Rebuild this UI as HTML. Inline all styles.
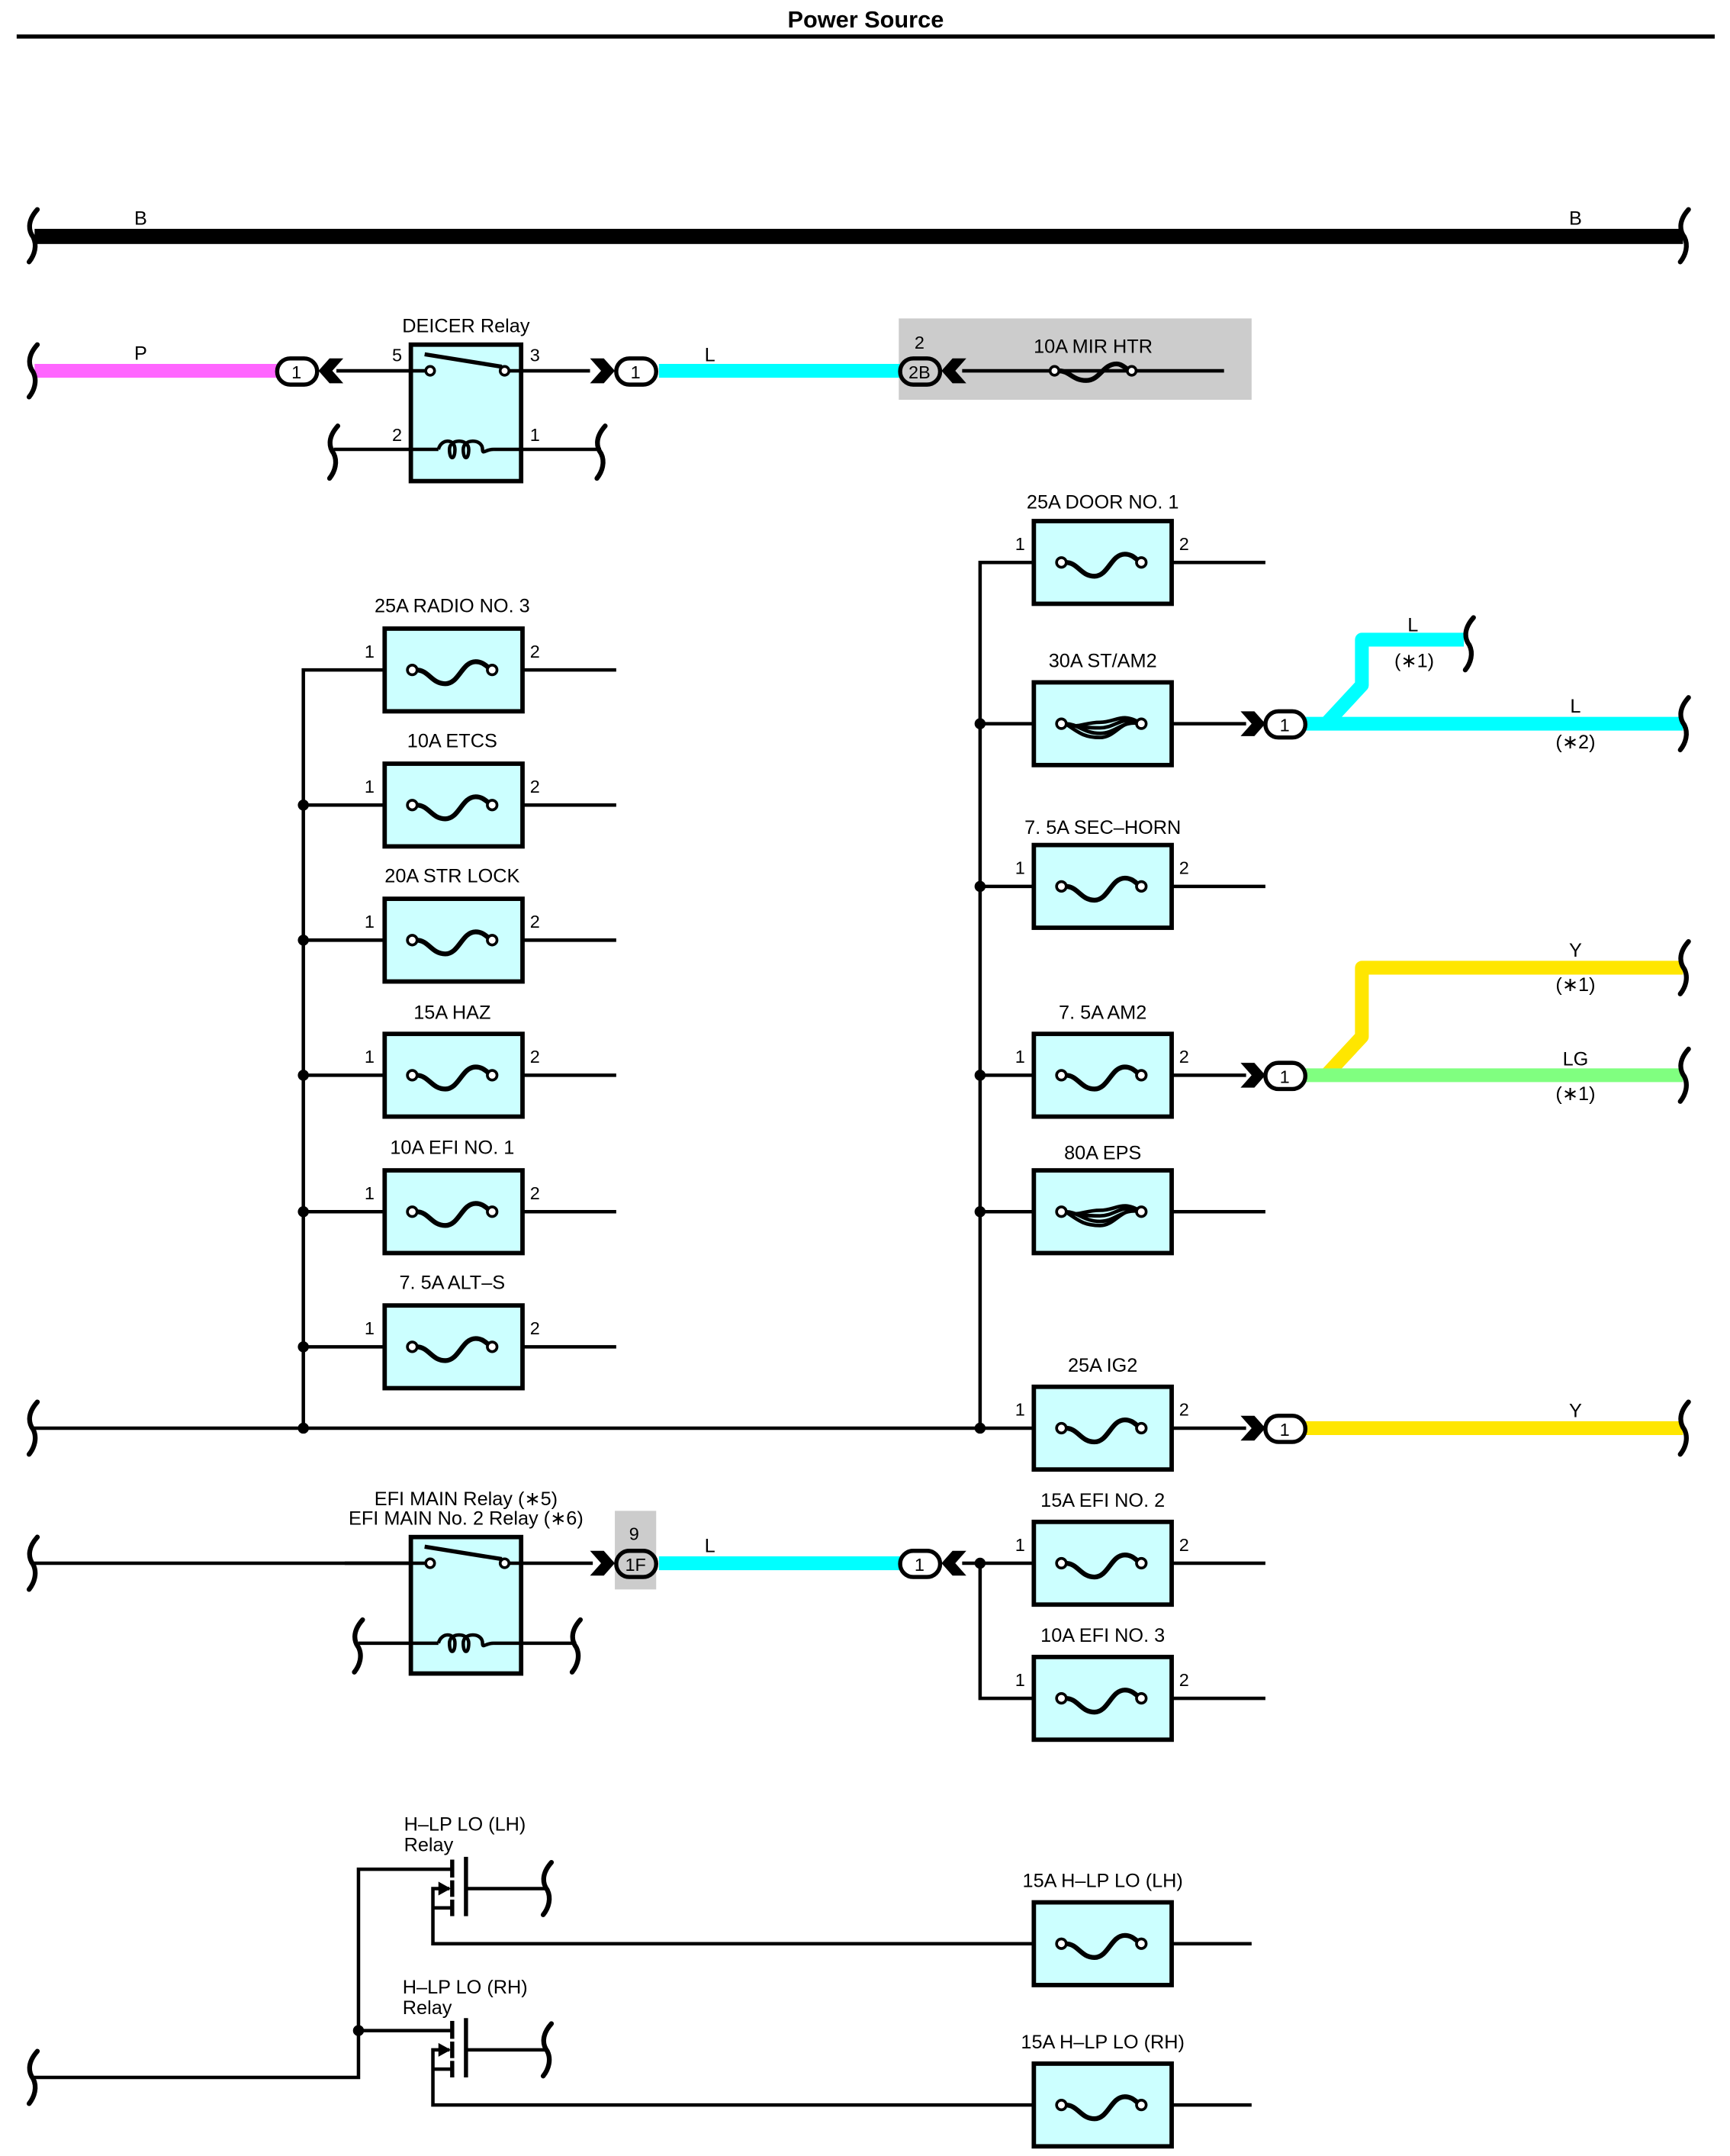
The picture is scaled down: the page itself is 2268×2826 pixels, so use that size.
<!DOCTYPE html>
<html><head><meta charset="utf-8"><style>
html,body{margin:0;padding:0;background:#fff;}
svg{display:block;}
text{font-family:"Liberation Sans",sans-serif;fill:#000;}
</style></head><body>
<svg width="2268" height="2826" viewBox="0 0 1255 1564" xmlns="http://www.w3.org/2000/svg">
<defs>
<g id="fuse">
<rect x="0" y="-30" width="100" height="60" fill="#ccffff" stroke="#000" stroke-width="3.2"/>
<path d="M23,0 C32,0 34,10 44,10 C54,10 56,-6 66,-6 C72,-6 74,-2 78,0" fill="none" stroke="#000" stroke-width="3.5"/>
<circle cx="20" cy="0" r="3.5" fill="#fff" stroke="#000" stroke-width="2"/>
<circle cx="78" cy="0" r="3.5" fill="#fff" stroke="#000" stroke-width="2"/>
</g>
<g id="bfuse">
<rect x="0" y="-30" width="100" height="60" fill="#ccffff" stroke="#000" stroke-width="3.2"/>
<g fill="none" stroke="#000" stroke-width="2.6">
<path d="M23,0 C32,0 36,7 48,7 C60,7 64,-3 78,0"/>
<path d="M23,0 C32,2 36,3 48,3 C60,3 64,-7 78,0"/>
<path d="M23,0 C32,4 36,-1 48,-1 C60,-1 64,-9 78,0"/>
<path d="M23,0 C32,6 36,10 48,10 C60,10 64,-5 78,0"/>
</g>
<circle cx="20" cy="0" r="3.5" fill="#fff" stroke="#000" stroke-width="2"/>
<circle cx="78" cy="0" r="3.5" fill="#fff" stroke="#000" stroke-width="2"/>
</g>
<path id="curl" d="M3,-19 C-5,-10 -3,-3 0,1 C3,7 1,14 -3,19" fill="none" stroke="#000" stroke-width="3.5" stroke-linecap="round"/>
<path id="arR" d="M-18,-9 L-8,-9 L0,0 L-8,9 L-18,9 L-10,0 Z" fill="#000"/>
<path id="arL" d="M18,-9 L8,-9 L0,0 L8,9 L18,9 L10,0 Z" fill="#000"/>
</defs>

<text x="628" y="20" font-size="17" font-weight="bold" text-anchor="middle">Power Source</text>
<rect x="12" y="25" width="1232" height="3" fill="#000"/>

<rect x="25" y="166" width="1196" height="11" fill="#000"/>
<use href="#curl" x="24" y="171"/>
<use href="#curl" x="1222" y="171"/>
<text x="102" y="163" font-size="14" text-anchor="middle">B</text>
<text x="1143" y="163" font-size="14" text-anchor="middle">B</text>

<rect x="652" y="231" width="256" height="59" fill="#cccccc"/>
<line x1="25" y1="269" x2="202" y2="269" stroke="#ff66ff" stroke-width="10"/>
<use href="#curl" x="24" y="269"/>
<text x="102" y="261" font-size="14" text-anchor="middle">P</text>
<rect x="201" y="260" width="29" height="19" rx="9.5" fill="#fff" stroke="#000" stroke-width="3"/>
<text x="215" y="274.5" font-size="13" text-anchor="middle">1</text>
<use href="#arL" x="231" y="269"/>
<rect x="298" y="250" width="80" height="99" fill="#ccffff" stroke="#000" stroke-width="3.2"/>
<line x1="244" y1="269" x2="308" y2="269" stroke="#000" stroke-width="2.5"/>
<line x1="369" y1="269" x2="428" y2="269" stroke="#000" stroke-width="2.5"/>
<line x1="308" y1="257" x2="364" y2="266" stroke="#000" stroke-width="3"/>
<circle cx="312" cy="269" r="3.2" fill="#fff" stroke="#000" stroke-width="2"/>
<circle cx="366" cy="269" r="3.2" fill="#fff" stroke="#000" stroke-width="2"/>
<line x1="242" y1="326" x2="318" y2="326" stroke="#000" stroke-width="2.5"/>
<line x1="358" y1="326" x2="436" y2="326" stroke="#000" stroke-width="2.5"/>
<path d="M318,326 C320,318 330,318 330,326 C330,334 326,334 326,326 C326,318 340,318 340,326 C340,334 336,334 336,326 C336,318 350,318 350,326 C350,330 352,326 358,326" fill="none" stroke="#000" stroke-width="2.5"/>
<use href="#curl" x="242" y="328"/>
<use href="#curl" x="436" y="328"/>
<text x="338" y="241" font-size="14" text-anchor="middle">DEICER Relay</text>
<text x="288" y="262" font-size="13" text-anchor="middle">5</text>
<text x="388" y="262" font-size="13" text-anchor="middle">3</text>
<text x="288" y="320" font-size="13" text-anchor="middle">2</text>
<text x="388" y="320" font-size="13" text-anchor="middle">1</text>
<use href="#arR" x="446" y="269"/>
<rect x="447" y="260" width="29" height="19" rx="9.5" fill="#fff" stroke="#000" stroke-width="3"/>
<text x="461" y="274.5" font-size="13" text-anchor="middle">1</text>
<line x1="478" y1="269" x2="653" y2="269" stroke="#00ffff" stroke-width="10"/>
<text x="515" y="262" font-size="14" text-anchor="middle">L</text>
<rect x="653" y="260" width="29" height="19" rx="9.5" fill="#cccccc" stroke="#000" stroke-width="3"/>
<text x="667" y="274.5" font-size="13" text-anchor="middle">2B</text>
<text x="667" y="253" font-size="13" text-anchor="middle">2</text>
<use href="#arL" x="683" y="269"/>
<line x1="698" y1="269" x2="888" y2="269" stroke="#000" stroke-width="2.5"/>
<path d="M768,269 C776,269 778,276 788,276 C798,276 800,264 810,264 C814,264 816,267 820,269" fill="none" stroke="#000" stroke-width="3.5"/>
<circle cx="765" cy="269" r="3.2" fill="#fff" stroke="#000" stroke-width="2"/>
<circle cx="821" cy="269" r="3.2" fill="#fff" stroke="#000" stroke-width="2"/>
<text x="793" y="256" font-size="14" text-anchor="middle">10A MIR HTR</text>

<g stroke="#000" stroke-width="2.5" fill="none">
<polyline points="279,486 220,486 220,1036"/>
<line x1="22" y1="1036" x2="750" y2="1036"/>
<line x1="220" y1="584" x2="279" y2="584"/>
<line x1="220" y1="682" x2="279" y2="682"/>
<line x1="220" y1="780" x2="279" y2="780"/>
<line x1="220" y1="879" x2="279" y2="879"/>
<line x1="220" y1="977" x2="279" y2="977"/>
<line x1="378" y1="486" x2="447" y2="486"/>
<line x1="378" y1="584" x2="447" y2="584"/>
<line x1="378" y1="682" x2="447" y2="682"/>
<line x1="378" y1="780" x2="447" y2="780"/>
<line x1="378" y1="879" x2="447" y2="879"/>
<line x1="378" y1="977" x2="447" y2="977"/>
</g>
<use href="#curl" x="24" y="1036"/>
<g fill="#000"><circle cx="220" cy="584" r="4"/><circle cx="220" cy="682" r="4"/><circle cx="220" cy="780" r="4"/><circle cx="220" cy="879" r="4"/><circle cx="220" cy="977" r="4"/><circle cx="220" cy="1036" r="4"/></g>
<use href="#fuse" x="279" y="486"/><use href="#fuse" x="279" y="584"/><use href="#fuse" x="279" y="682"/>
<use href="#fuse" x="279" y="780"/><use href="#fuse" x="279" y="879"/><use href="#fuse" x="279" y="977"/>
<g font-size="14" text-anchor="middle">
<text x="328" y="444">25A RADIO NO. 3</text>
<text x="328" y="542">10A ETCS</text>
<text x="328" y="640">20A STR LOCK</text>
<text x="328" y="739">15A HAZ</text>
<text x="328" y="837">10A EFI NO. 1</text>
<text x="328" y="935">7. 5A ALT–S</text>
</g>
<g font-size="13" text-anchor="middle">
<text x="268" y="477">1</text><text x="388" y="477">2</text>
<text x="268" y="575">1</text><text x="388" y="575">2</text>
<text x="268" y="673">1</text><text x="388" y="673">2</text>
<text x="268" y="771">1</text><text x="388" y="771">2</text>
<text x="268" y="870">1</text><text x="388" y="870">2</text>
<text x="268" y="968">1</text><text x="388" y="968">2</text>
</g>

<g stroke="#000" stroke-width="2.5" fill="none">
<polyline points="750,408 711,408 711,1036"/>
<line x1="711" y1="525" x2="750" y2="525"/>
<line x1="711" y1="643" x2="750" y2="643"/>
<line x1="711" y1="780" x2="750" y2="780"/>
<line x1="711" y1="879" x2="750" y2="879"/>
<line x1="850" y1="408" x2="918" y2="408"/>
<line x1="850" y1="525" x2="904" y2="525"/>
<line x1="850" y1="643" x2="918" y2="643"/>
<line x1="850" y1="780" x2="904" y2="780"/>
<line x1="850" y1="879" x2="918" y2="879"/>
<line x1="850" y1="1036" x2="904" y2="1036"/>
<line x1="850" y1="1134" x2="918" y2="1134"/>
<line x1="850" y1="1232" x2="918" y2="1232"/>
<polyline points="698,1134 711,1134 711,1232 750,1232"/>
<line x1="711" y1="1134" x2="750" y2="1134"/>
</g>
<g fill="#000"><circle cx="711" cy="525" r="4"/><circle cx="711" cy="643" r="4"/><circle cx="711" cy="780" r="4"/><circle cx="711" cy="879" r="4"/><circle cx="711" cy="1036" r="4"/><circle cx="711" cy="1134" r="4"/></g>
<use href="#fuse" x="750" y="408"/><use href="#bfuse" x="750" y="525"/><use href="#fuse" x="750" y="643"/>
<use href="#fuse" x="750" y="780"/><use href="#bfuse" x="750" y="879"/><use href="#fuse" x="750" y="1036"/>
<use href="#fuse" x="750" y="1134"/><use href="#fuse" x="750" y="1232"/>
<g font-size="14" text-anchor="middle">
<text x="800" y="369">25A DOOR NO. 1</text>
<text x="800" y="484">30A ST/AM2</text>
<text x="800" y="605">7. 5A SEC–HORN</text>
<text x="800" y="739">7. 5A AM2</text>
<text x="800" y="841">80A EPS</text>
<text x="800" y="995">25A IG2</text>
<text x="800" y="1093">15A EFI NO. 2</text>
<text x="800" y="1191">10A EFI NO. 3</text>
</g>
<g font-size="13" text-anchor="middle">
<text x="740" y="399">1</text><text x="859" y="399">2</text>
<text x="740" y="634">1</text><text x="859" y="634">2</text>
<text x="740" y="771">1</text><text x="859" y="771">2</text>
<text x="740" y="1027">1</text><text x="859" y="1027">2</text>
<text x="740" y="1125">1</text><text x="859" y="1125">2</text>
<text x="740" y="1223">1</text><text x="859" y="1223">2</text>
</g>

<path d="M962,525 L988,497 L988,464 L1062,464" fill="none" stroke="#00ffff" stroke-width="10" stroke-linejoin="round"/>
<line x1="946" y1="525" x2="1221" y2="525" stroke="#00ffff" stroke-width="10"/>
<use href="#arR" x="918" y="525"/>
<rect x="918" y="516" width="29" height="19" rx="9.5" fill="#fff" stroke="#000" stroke-width="3"/>
<text x="932" y="530.5" font-size="13" text-anchor="middle">1</text>
<use href="#curl" x="1066" y="467"/>
<use href="#curl" x="1222" y="525"/>
<g font-size="14" text-anchor="middle">
<text x="1025" y="458">L</text><text x="1026" y="484">(∗1)</text>
<text x="1143" y="517">L</text><text x="1143" y="543">(∗2)</text>
</g>

<path d="M962,780 L988,752 L988,702 L1221,702" fill="none" stroke="#ffe600" stroke-width="10" stroke-linejoin="round"/>
<line x1="946" y1="780" x2="1221" y2="780" stroke="#80ff80" stroke-width="10"/>
<use href="#arR" x="918" y="780"/>
<rect x="918" y="771" width="29" height="19" rx="9.5" fill="#fff" stroke="#000" stroke-width="3"/>
<text x="932" y="785.5" font-size="13" text-anchor="middle">1</text>
<use href="#curl" x="1222" y="702"/>
<use href="#curl" x="1222" y="780"/>
<g font-size="14" text-anchor="middle">
<text x="1143" y="694">Y</text><text x="1143" y="719">(∗1)</text>
<text x="1143" y="773">LG</text><text x="1143" y="798">(∗1)</text>
</g>

<line x1="946" y1="1036" x2="1221" y2="1036" stroke="#ffe600" stroke-width="10"/>
<use href="#arR" x="918" y="1036"/>
<rect x="918" y="1027" width="29" height="19" rx="9.5" fill="#fff" stroke="#000" stroke-width="3"/>
<text x="932" y="1041.5" font-size="13" text-anchor="middle">1</text>
<use href="#curl" x="1222" y="1036"/>
<text x="1143" y="1028" font-size="14" text-anchor="middle">Y</text>

<rect x="446" y="1096" width="30" height="57" fill="#cccccc"/>
<line x1="24" y1="1134" x2="308" y2="1134" stroke="#000" stroke-width="2.5"/>
<use href="#curl" x="24" y="1134"/>
<rect x="298" y="1115" width="80" height="99" fill="#ccffff" stroke="#000" stroke-width="3.2"/>
<line x1="250" y1="1134" x2="308" y2="1134" stroke="#000" stroke-width="2.5"/>
<line x1="369" y1="1134" x2="430" y2="1134" stroke="#000" stroke-width="2.5"/>
<line x1="308" y1="1122" x2="364" y2="1131" stroke="#000" stroke-width="3"/>
<circle cx="312" cy="1134" r="3.2" fill="#fff" stroke="#000" stroke-width="2"/>
<circle cx="366" cy="1134" r="3.2" fill="#fff" stroke="#000" stroke-width="2"/>
<line x1="260" y1="1192" x2="318" y2="1192" stroke="#000" stroke-width="2.5"/>
<line x1="358" y1="1192" x2="418" y2="1192" stroke="#000" stroke-width="2.5"/>
<path d="M318,1192 C320,1184 330,1184 330,1192 C330,1200 326,1200 326,1192 C326,1184 340,1184 340,1192 C340,1200 336,1200 336,1192 C336,1184 350,1184 350,1192 C350,1196 352,1192 358,1192" fill="none" stroke="#000" stroke-width="2.5"/>
<use href="#curl" x="260" y="1194"/>
<use href="#curl" x="418" y="1194"/>
<text x="338" y="1092" font-size="14" text-anchor="middle">EFI MAIN Relay (∗5)</text>
<text x="338" y="1106" font-size="14" text-anchor="middle">EFI MAIN No. 2 Relay (∗6)</text>
<use href="#arR" x="446" y="1134"/>
<rect x="447" y="1125" width="29" height="19" rx="9.5" fill="#cccccc" stroke="#000" stroke-width="3"/>
<text x="461" y="1139.5" font-size="13" text-anchor="middle">1F</text>
<text x="460" y="1117" font-size="13" text-anchor="middle">9</text>
<line x1="478" y1="1134" x2="653" y2="1134" stroke="#00ffff" stroke-width="10"/>
<text x="515" y="1126" font-size="14" text-anchor="middle">L</text>
<rect x="653" y="1125" width="29" height="19" rx="9.5" fill="#fff" stroke="#000" stroke-width="3"/>
<text x="667" y="1139.5" font-size="13" text-anchor="middle">1</text>
<use href="#arL" x="683" y="1134"/>

<g stroke="#000" stroke-width="2.5" fill="none">
<polyline points="24,1507 260,1507 260,1356 328,1356"/>
<line x1="260" y1="1473" x2="328" y2="1473"/>
<polyline points="326,1370 314,1370 314,1410 750,1410"/>
<line x1="314" y1="1384" x2="328" y2="1384"/>
<line x1="338" y1="1370" x2="397" y2="1370"/>
<polyline points="326,1487 314,1487 314,1527 750,1527"/>
<line x1="314" y1="1501" x2="328" y2="1501"/>
<line x1="338" y1="1487" x2="397" y2="1487"/>
<line x1="850" y1="1410" x2="908" y2="1410"/>
<line x1="850" y1="1527" x2="908" y2="1527"/>
</g>
<g stroke="#000" stroke-width="3" fill="none">
<line x1="328" y1="1349" x2="328" y2="1362"/><line x1="328" y1="1364" x2="328" y2="1376"/><line x1="328" y1="1378" x2="328" y2="1390"/>
<line x1="338" y1="1347" x2="338" y2="1390"/>
<line x1="328" y1="1466" x2="328" y2="1479"/><line x1="328" y1="1481" x2="328" y2="1493"/><line x1="328" y1="1495" x2="328" y2="1507"/>
<line x1="338" y1="1464" x2="338" y2="1507"/>
</g>
<path d="M318,1365 L327,1370 L318,1375 Z" fill="#000"/>
<path d="M318,1482 L327,1487 L318,1492 Z" fill="#000"/>
<circle cx="260" cy="1473" r="4" fill="#000"/>
<use href="#curl" x="397" y="1370"/>
<use href="#curl" x="397" y="1487"/>
<use href="#curl" x="24" y="1507"/>
<g font-size="14">
<text x="293" y="1328">H–LP LO (LH)</text><text x="293" y="1343">Relay</text>
<text x="292" y="1446">H–LP LO (RH)</text><text x="292" y="1461">Relay</text>
</g>
<use href="#fuse" x="750" y="1410"/><use href="#fuse" x="750" y="1527"/>
<text x="800" y="1369" font-size="14" text-anchor="middle">15A H–LP LO (LH)</text>
<text x="800" y="1486" font-size="14" text-anchor="middle">15A H–LP LO (RH)</text>
</svg>
</body></html>
